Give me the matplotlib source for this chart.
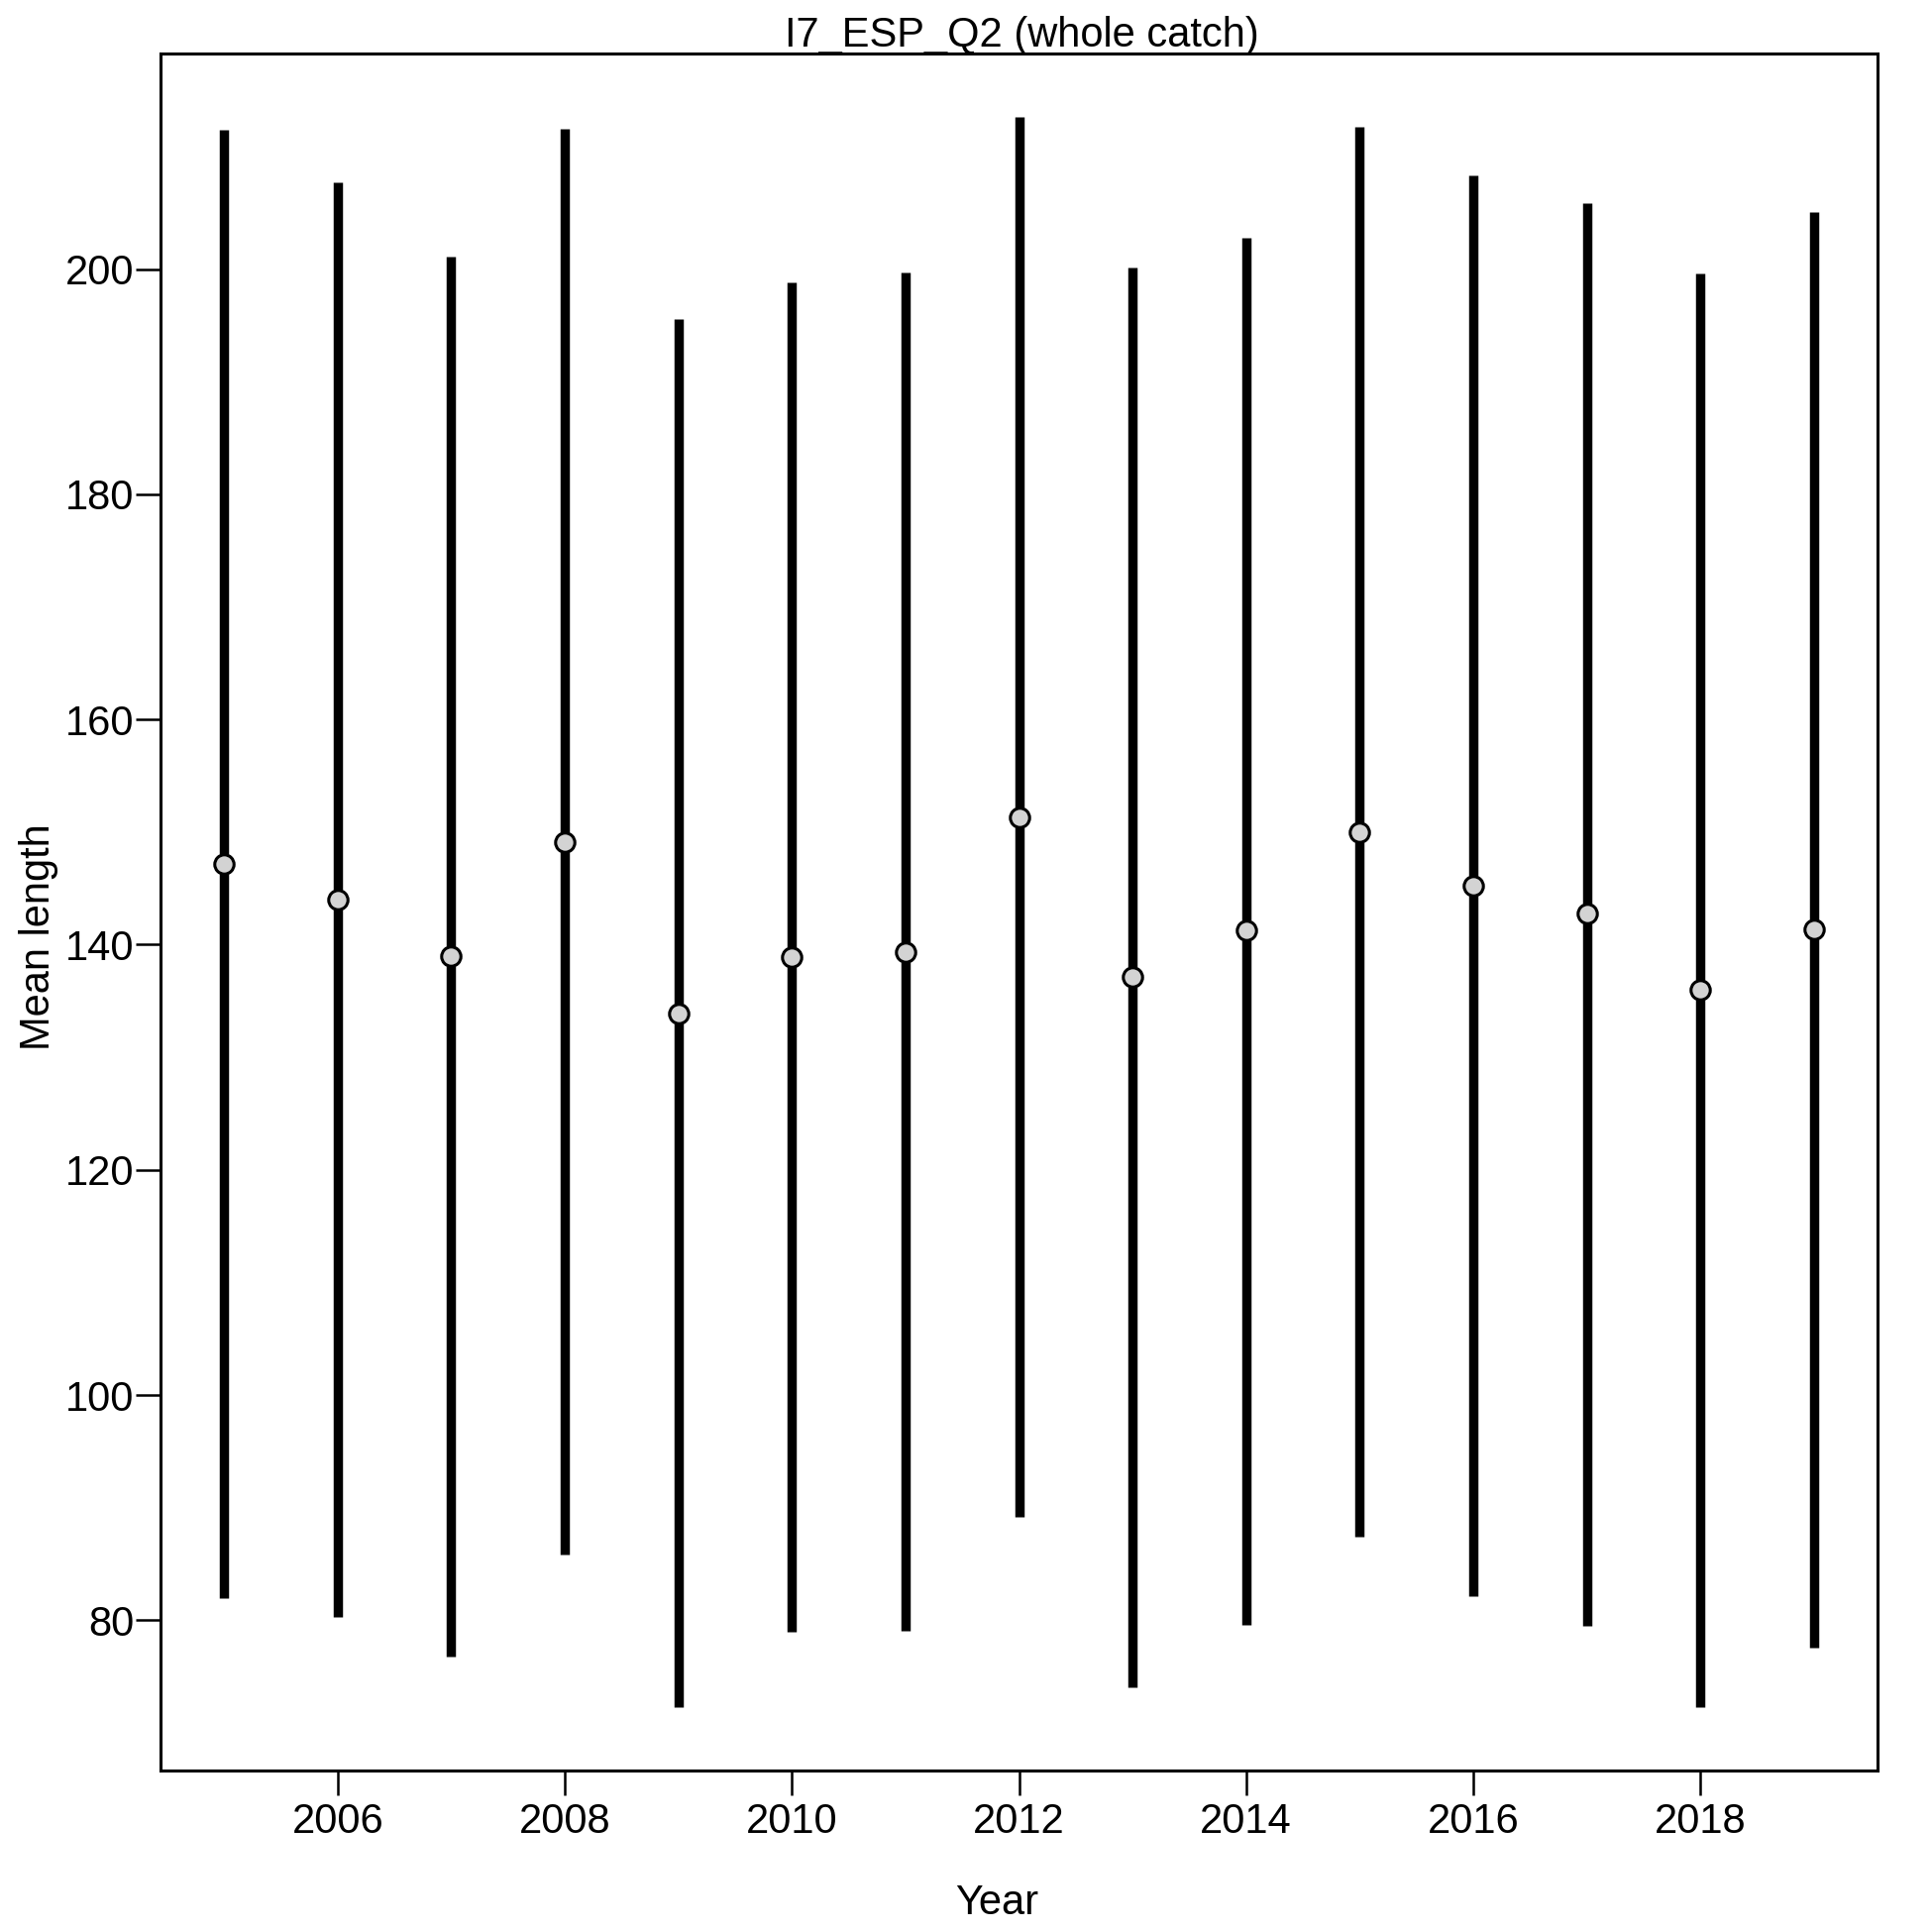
"""Mean length by year with ranges, I7_ESP_Q2 whole catch."""

import matplotlib.pyplot as plt

plt.rcParams["font.family"] = ["Liberation Sans", "DejaVu Sans"]

years = [2005, 2006, 2007, 2008, 2009, 2010, 2011, 2012,
         2013, 2014, 2015, 2016, 2017, 2018, 2019]
mean_len = [147.2, 144.0, 139.0, 149.1, 133.9, 138.9, 139.3, 151.3,
            137.1, 141.3, 150.0, 145.2, 142.8, 136.0, 141.4]
upper = [212.4, 207.7, 201.1, 212.5, 195.6, 198.8, 199.7, 213.5,
         200.1, 202.8, 212.6, 208.3, 205.9, 199.6, 205.1]
lower = [82.0, 80.3, 76.8, 85.8, 72.3, 79.0, 79.1, 89.2,
         74.0, 79.6, 87.4, 82.1, 79.5, 72.3, 77.6]
x_ticks = [2006, 2008, 2010, 2012, 2014, 2016, 2018]
y_ticks = [80, 100, 120, 140, 160, 180, 200]

W = 1950.0
FS = 30

fig = plt.figure(figsize=(19.5, 19.5), dpi=100)
left, right, top, bottom = 162, 1895, 54, 1787
ax = fig.add_axes([left / W, 1 - bottom / W, (right - left) / W, (bottom - top) / W])

ax.vlines(years, lower, upper, colors="black", linewidth=6.8, capstyle="butt", zorder=2)
ax.plot(years, mean_len, "o", markersize=14, markerfacecolor="#d3d3d3",
        markeredgecolor="black", markeredgewidth=2.2, zorder=3)

# R-style axis extension (4%)
xr = max(years) - min(years)
ax.set_xlim(min(years) - 0.04 * xr, max(years) + 0.04 * xr)
yr = max(upper) - min(lower)
ax.set_ylim(min(lower) - 0.04 * yr, max(upper) + 0.04 * yr)

ax.set_xticks(x_ticks)
ax.set_yticks(y_ticks)
ax.tick_params(axis="both", length=18, width=1.8, labelsize=FS, direction="out")
ax.tick_params(axis="x", pad=5)
ax.tick_params(axis="y", pad=1)
for s in ax.spines.values():
    s.set_linewidth(2.2)

fig.text(1031 / W, 1 - 47 / W, "I7_ESP_Q2 (whole catch)", ha="center",
         va="baseline", fontsize=FS)
fig.text(1006 / W, 1 - 1932 / W, "Year", ha="center", va="baseline", fontsize=FS)
fig.text(50 / W, 1 - 946 / W, "Mean length", ha="center", va="baseline",
         rotation=90, rotation_mode="anchor", fontsize=FS)

fig.savefig("out.png", dpi=100)
plt.close(fig)
